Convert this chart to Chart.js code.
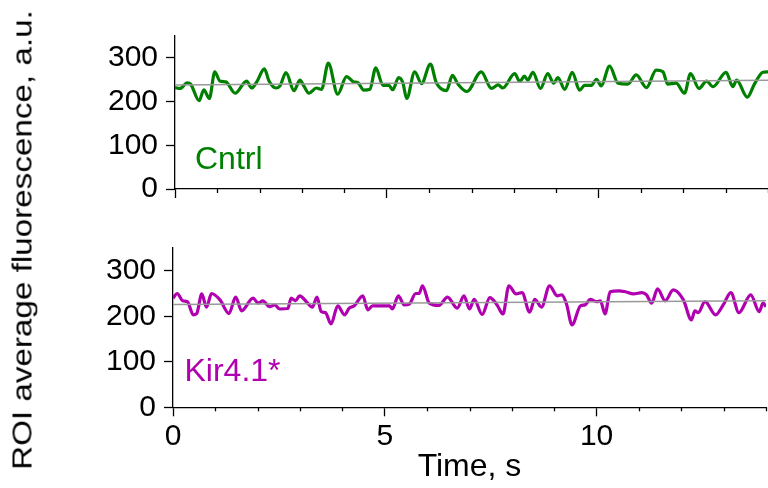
<!DOCTYPE html>
<html>
<head>
<meta charset="utf-8">
<script src="https://cdn.jsdelivr.net/npm/chart.js@4"></script>
<style>
    body { margin: 0; background: #fff; }
    #wrap { position: relative; width: 768px; height: 488px; overflow: hidden; font-family: "Liberation Sans", Arial, sans-serif; }
    canvas { position: absolute; left: 0; }
    #top-chart { top: 0; }
    #bottom-chart { top: 215px; }
    .tag { position: absolute; font-size: 32px; line-height: 1; white-space: nowrap; }
    #ytitle {
        position: absolute; left: 22.6px; top: 240px;
        font-size: 27px; line-height: 1; white-space: nowrap;
        transform: translate(-50%, -50%) rotate(-90deg) scaleX(1.23);
    }
</style>
</head>
<body>
<div id="wrap">
    <canvas id="top-chart" width="768" height="215"></canvas>
    <canvas id="bottom-chart" width="768" height="273"></canvas>
    <div class="tag" style="left:195px; top:142px; color:#008000;">Cntrl</div>
    <div class="tag" style="left:184.5px; top:353.5px; color:#b000b0;">Kir4.1*</div>
    <div id="ytitle">ROI average fluorescence, a.u.</div>
</div>
<script>
// values (time in s, fluorescence in a.u.)
const cntrlTime = [0, 0.12, 0.29, 0.37, 0.57, 0.68, 0.81, 0.94, 1.06, 1.20,
    1.42, 1.69, 1.81, 1.93, 2.11, 2.22, 2.38, 2.48, 2.62, 2.81,
    2.95, 3.04, 3.16, 3.34, 3.46, 3.62, 3.84, 4.05, 4.22, 4.32,
    4.46, 4.60, 4.74, 4.91, 5.05, 5.14, 5.28, 5.38, 5.47, 5.66,
    5.82, 6.03, 6.17, 6.41, 6.55, 6.68, 6.89, 7.23, 7.47, 7.63,
    7.74, 8.02, 8.14, 8.25, 8.33, 8.45, 8.63, 8.80, 8.94, 9.04,
    9.20, 9.38, 9.55, 9.67, 9.83, 9.95, 10.06, 10.26, 10.46, 10.69,
    10.89, 11.13, 11.36, 11.52, 11.63, 11.83, 12.03, 12.17, 12.37, 12.55,
    12.70, 13.01, 13.17, 13.26, 13.51, 13.68, 13.88, 14];
const cntrlValues = [232, 230, 243, 240, 202, 227, 207, 268, 247, 245,
    219, 247, 231, 245, 275, 247, 231, 236, 266, 225,
    249, 236, 219, 231, 228, 288, 217, 257, 245, 243,
    226, 228, 277, 237, 237, 227, 255, 243, 207, 268,
    241, 286, 243, 225, 260, 240, 223, 268, 230, 238,
    231, 264, 246, 258, 249, 267, 230, 264, 242, 255,
    228, 267, 226, 237, 237, 251, 236, 281, 242, 240,
    261, 232, 272, 268, 240, 242, 219, 264, 230, 247,
    234, 267, 234, 249, 210, 240, 267, 268];

const kirTime = [0, 0.10, 0.23, 0.34, 0.48, 0.56, 0.68, 0.79, 0.91, 1.11,
    1.32, 1.48, 1.62, 1.89, 2.01, 2.12, 2.28, 2.40, 2.52, 2.71,
    2.79, 2.89, 2.99, 3.15, 3.29, 3.40, 3.50, 3.60, 3.73, 3.89,
    4.05, 4.16, 4.28, 4.48, 4.60, 4.71, 4.91, 5.11, 5.18, 5.32,
    5.46, 5.58, 5.73, 5.81, 5.89, 6.05, 6.28, 6.48, 6.71, 6.87,
    7.00, 7.11, 7.30, 7.48, 7.65, 7.79, 7.93, 8.10, 8.24, 8.42,
    8.54, 8.70, 8.89, 9.07, 9.18, 9.29, 9.42, 9.62, 9.73, 9.85,
    10.01, 10.09, 10.20, 10.32, 10.52, 10.68, 10.87, 11.07, 11.18, 11.30,
    11.44, 11.62, 11.81, 12.05, 12.24, 12.32, 12.40, 12.56, 12.81, 12.99,
    13.17, 13.36, 13.64, 13.84, 13.93, 14];
const kirValues = [240, 250, 234, 232, 203, 206, 249, 220, 250, 236,
    206, 242, 212, 240, 229, 234, 221, 225, 216, 217,
    240, 234, 245, 232, 220, 242, 210, 208, 183, 223,
    203, 218, 223, 245, 214, 223, 223, 223, 216, 245,
    225, 227, 250, 250, 267, 229, 224, 242, 218, 245,
    216, 237, 204, 241, 225, 205, 267, 249, 252, 209,
    237, 220, 267, 245, 247, 227, 181, 223, 225, 237,
    232, 234, 205, 254, 256, 254, 249, 252, 247, 229,
    260, 234, 258, 236, 192, 212, 208, 232, 203, 225,
    252, 208, 247, 210, 229, 221];

// straight trend lines
const trendTime = [0, 14];
const cntrlTrend = [238, 249];
const kirTrend = [226, 234];

const FONT = '"Liberation Sans", Arial, sans-serif';
Chart.defaults.font.family = FONT;
Chart.defaults.color = "#000";

function toPoints(xs, ys) {
    return xs.map((x, i) => ({ x: x, y: ys[i] }));
}

// short ticks at the unlabelled steps
const minorTicks = {
    id: "minorTicks",
    afterDraw(chart) {
        const ctx = chart.ctx;
        const ys = chart.scales.y, xs = chart.scales.x;
        ctx.save();
        ctx.strokeStyle = "#000";
        ctx.lineWidth = 1.3;
        ys.ticks.forEach(t => {
            if (t.value % 100 === 0) return;
            const py = Math.round(ys.getPixelForValue(t.value)) + 0.5;
            ctx.beginPath();
            ctx.moveTo(ys.right - 5, py);
            ctx.lineTo(ys.right, py);
            ctx.stroke();
        });
        xs.ticks.forEach(t => {
            if (t.value % 5 === 0) return;
            const px = Math.round(xs.getPixelForValue(t.value)) + 0.5;
            ctx.beginPath();
            ctx.moveTo(px, xs.top);
            ctx.lineTo(px, xs.top + 4);
            ctx.stroke();
        });
        ctx.restore();
    }
};

function makePanel(id, times, values, trend, color, cfg) {
    const ctx = document.getElementById(id).getContext("2d");
    return new Chart(ctx, {
        type: "line",
        data: {
            datasets: [
                {
                    data: toPoints(trendTime, trend),
                    borderColor: "#999999",
                    borderWidth: 1.5,
                    pointRadius: 0
                },
                {
                    data: toPoints(times, values),
                    borderColor: color,
                    borderWidth: 3.2,
                    pointRadius: 0,
                    cubicInterpolationMode: "monotone"
                }
            ]
        },
        options: {
            responsive: false,
            animation: false,
            events: [],
            layout: { padding: { top: cfg.padTop, left: 0, right: 0, bottom: 0 } },
            plugins: { legend: { display: false }, tooltip: { enabled: false } },
            scales: {
                x: {
                    type: "linear",
                    min: 0,
                    max: 14,
                    afterFit: s => { s.height = cfg.xHeight; },
                    border: { color: "#000", width: 1.3 },
                    grid: {
                        drawOnChartArea: false,
                        tickLength: 9,
                        tickWidth: 1.3,
                        tickColor: c => (c.tick && c.tick.value % 5 === 0) ? "#000" : "rgba(0,0,0,0)"
                    },
                    ticks: {
                        display: cfg.xLabels,
                        stepSize: 1,
                        autoSkip: false,
                        maxRotation: 0,
                        padding: 2,
                        font: { size: 30 },
                        callback: v => v % 5 === 0 ? v : ""
                    },
                    title: {
                        display: cfg.xLabels,
                        text: "Time, s",
                        font: { size: 32 },
                        padding: { top: 0, bottom: 2 }
                    }
                },
                y: {
                    min: 0,
                    max: 350,
                    afterFit: s => { s.width = cfg.yWidth; },
                    border: { color: "#000", width: 1.3 },
                    grid: {
                        drawOnChartArea: false,
                        tickLength: 9,
                        tickWidth: 1.3,
                        tickColor: c => (c.tick && c.tick.value % 100 === 0) ? "#000" : "rgba(0,0,0,0)"
                    },
                    ticks: {
                        stepSize: 50,
                        padding: 8,
                        font: { size: 30 },
                        callback: v => v % 100 === 0 ? v : ""
                    }
                }
            }
        },
        plugins: [minorTicks]
    });
}

makePanel("top-chart", cntrlTime, cntrlValues, cntrlTrend, "#008000",
    { padTop: 36, xHeight: 23.5, yWidth: 175, xLabels: false });
makePanel("bottom-chart", kirTime, kirValues, kirTrend, "#b000b0",
    { padTop: 33, xHeight: 80.7, yWidth: 173, xLabels: true });
</script>
</body>
</html>
